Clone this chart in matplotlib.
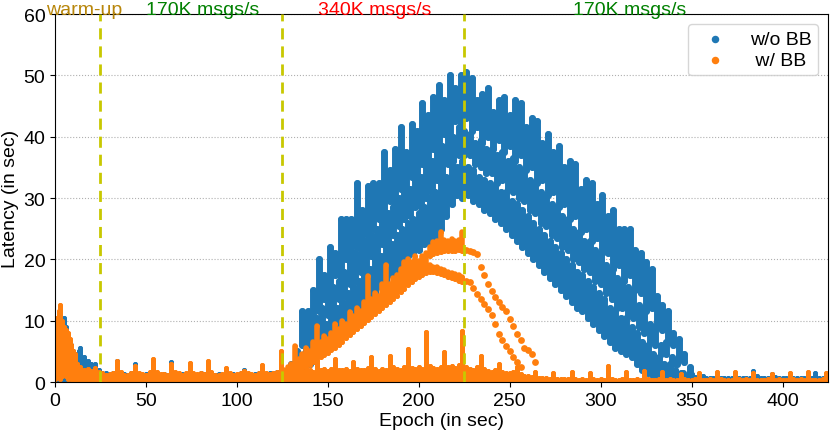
import numpy as np
import matplotlib
matplotlib.use("Agg")
import matplotlib.pyplot as plt

plt.rcParams['font.family'] = ['Liberation Sans', 'DejaVu Sans']

BLUE = '#1f77b4'
ORANGE = '#ff7f0e'

# ---- w/o BB : three bands of latency streaks (lo, hi) every 3 s ----
band_x = np.arange(128, 348, 3)
top_hi = [3, 5, 11.5, 11.5, 15, 20, 17.5, 22, 21, 26.5, 26.5, 26.5, 32.5, 28, 32, 32.5, 32.5,
          37.5, 34.5, 38, 41.5, 37.5, 42, 41, 45.5, 43.5, 46.5, 48.5, 46, 50, 48, 50, 50.5,
          49.5, 46, 47, 48, 44, 46, 46.5, 43.5, 46, 45.5, 41.5, 43, 42.5, 39, 40.5, 37.5, 38.5,
          35, 36, 35.5, 31.5, 33, 32.5, 29, 30.5, 27, 28, 25, 25, 25, 21.5, 21, 19.5, 18.5, 14,
          12.5, 11.5, 8, 7, 4.5, 2.5]
top_lo = [1.3, 3, 6, 7.5, 10, 11.5, 13.5, 14.5, 17.5, 17, 20, 20, 22, 23, 24, 25, 26.5,
          27, 29.5, 28.5, 31.5, 31, 33.5, 33, 35.5, 35.5, 38, 37.5, 40.5, 40, 42.5, 41.5, 43,
          41, 41.5, 39, 40, 38, 39.5, 37.5, 38.5, 36, 37, 34.5, 35, 32.5, 33, 30.5, 31, 28.5,
          29, 26.5, 27, 24.5, 25, 23, 23.5, 21, 21, 18.5, 19, 16.5, 17.5, 15, 14.5, 11.5, 12,
          9, 8.5, 6.5, 6, 4, 3.3, 1.5]
mid_hi = [0.5, 2.5, 4.3, 7.5, 9, 10.5, 12, 14, 15.5, 16.5, 18, 19.5, 21, 22, 23, 24, 25, 26.5,
          27.5, 28.5, 30, 31, 31.5, 33, 33.5, 35, 36, 37.5, 38.5, 40, 40, 41.5, 41, 40.5, 39,
          39.5, 38, 38, 37, 37.5, 36, 36.5, 35, 34.5, 33, 32.5, 31, 30.5, 29, 28.5, 27, 26.5,
          25, 24.5, 23, 23, 21.5, 21, 19, 18.5, 17, 16.5, 15.5, 15, 12.5, 12, 9.5, 9, 6, 6.5,
          4, 3.5, 1.5, 1]
mid_lo = [0.3, 1.5, 3, 5, 6.5, 8, 9, 11, 11.5, 13.5, 14, 16, 16.5, 18, 18.5, 20.5, 20.5, 22.5,
          23, 24, 25.5, 26.5, 27, 28.5, 28.5, 30, 31, 33, 33.5, 35.5, 36, 37, 37, 37, 35.5,
          35, 34, 34, 32.5, 33, 31.5, 31, 30, 29.5, 28, 27.5, 26, 25.5, 24, 23.5, 22, 21.5,
          20, 19.5, 18.5, 18, 16.5, 16, 14.5, 13.5, 12, 12, 11, 10.5, 9, 8, 6.5, 6, 4.5, 4.5,
          3, 3, 1.5, 1]
bot_hi = [0.8, 1.5, 3.3, 4.5, 6, 7, 8.5, 9.5, 11, 12, 13, 14.5, 15.5, 16.5, 17.5, 18.5,
          20, 20.5, 22, 22.5, 24, 25, 26, 26.5, 27.5, 28.5, 30, 31, 32.5, 33.5, 35.5, 35,
          36, 35, 34.5, 33.5, 33, 32.5, 32, 31, 31, 29.5, 29, 28, 27, 26, 25, 24, 23,
          22, 21, 20, 19, 18, 17.5, 16.5, 15.5, 14.5, 13.5, 12, 11.5, 10.5, 10.5, 9, 8, 6.5,
          6, 4.5, 4, 3, 3, 2, 1.5, 0.8]
bot_lo = [0, 0.3, 1, 1.5, 3, 3.5, 4.5, 6, 6.5, 7, 9, 9.5, 10.5, 11.5, 12, 13.5, 14.5, 15.5,
          16, 17.5, 18.5, 19, 20.5, 21, 21.5, 22.5, 22.5, 23.5, 25, 27, 29, 30.5, 30, 30.5,
          29.5, 29, 28, 27.5, 26.5, 26, 25, 24, 23, 22, 21, 20, 19, 18, 17, 16, 15, 14, 13, 12,
          11.5, 10.5, 9.5, 8.5, 7.5, 6.5, 5.5, 5, 4.5, 4, 3, 2, 1.5, 1, 0.5, 0.3, 0.3, 0.3,
          0.3, 0.3]

# w/o BB warm-up and low periods
blue_warm_x = np.arange(0, 14)
blue_warm_hi = [7, 9, 10, 9, 8, 10.5, 9, 6, 5.5, 6, 5, 4, 4.5, 5]
blue_low_x = np.arange(14, 128, 2)
blue_low_hi = [5.5, 4.0, 3.5, 3.0, 3.0, 2.0, 1.5, 1.4, 1.3, 1.5, 3.5, 1.4, 1.3, 1.2, 1.4,
               3.0, 1.3, 1.2, 1.3, 1.4, 2.5, 1.3, 1.2, 1.3, 1.2, 3.2, 1.4, 1.2, 1.3, 1.2,
               3.0, 1.3, 1.2, 1.4, 1.3, 2.5, 1.3, 1.2, 1.3, 1.2, 2.0, 1.2, 1.3, 1.2, 1.4,
               2.0, 1.3, 1.2, 1.3, 1.4, 2.3, 1.3, 1.4, 1.5, 1.6, 3.0, 2.0]
blue_tail_x = np.arange(348, 426, 2)
blue_tail_hi = [1.0, 1.3, 0.8, 0.7, 1.0, 0.6, 0.7, 0.6, 1.0, 0.6, 0.6, 0.7, 0.6, 0.9, 0.6,
                0.6, 0.7, 0.6, 1.8, 1.0, 0.6, 0.6, 0.7, 1.3, 0.8, 0.6, 0.6, 0.7, 1.3, 0.6,
                0.6, 0.7, 0.6, 0.9, 0.6, 1.5, 0.6, 0.7, 1.0]

# ---- w/ BB ----
orange_warm_x = np.arange(0, 13)
orange_warm_lo = [0.5, 1, 2, 0.5, 1, 2, 1, 0.5, 1, 0.5, 0.3, 0.3, 0.3]
orange_warm_hi = [10.5, 9, 11.5, 12.5, 10, 9, 8.5, 8, 7, 6, 5, 4.5, 3]
orange_base_x = np.arange(10, 426, 2)
orange_base_hi = [4.5, 3.0, 2.5, 2.0, 2.2, 1.8, 2.3, 1.6, 1.4, 1.2,
                  1.3, 1.5, 3.5, 1.6, 1.2, 1.2, 1.4, 2.6, 1.5, 1.3,
                  1.2, 1.6, 3.8, 1.7, 1.3, 1.3, 1.2, 3.0, 1.6, 1.4,
                  1.2, 1.5, 3.1, 1.4, 1.3, 1.4, 1.3, 3.5, 1.6, 1.2,
                  1.1, 1.3, 2.3, 1.4, 1.2, 1.3, 1.5, 1.8, 1.4, 1.3,
                  1.2, 1.4, 2.8, 1.5, 1.3, 1.4, 1.6, 5.0, 1.8, 1.5,
                  1.6, 2.0, 3.2, 2.2, 1.8, 2.0, 1.7, 3.5, 1.9, 2.1,
                  1.8, 2.2, 3.8, 2.0, 1.9, 2.1, 1.8, 3.3, 2.2, 2.0,
                  1.9, 2.3, 4.0, 2.1, 1.8, 2.2, 2.0, 4.3, 2.4, 2.1,
                  2.0, 2.5, 5.4, 2.3, 2.2, 2.4, 2.2, 8.1, 2.6, 2.3,
                  2.2, 2.5, 4.9, 2.4, 2.6, 2.3, 2.7, 8.3, 2.5, 2.2,
                  2.0, 2.4, 4.2, 2.1, 1.8, 1.7, 1.9, 3.0, 1.6, 1.5,
                  1.4, 1.6, 2.5, 1.3, 1.0, 0.9, 0.8, 1.6, 0.7, 0.6,
                  0.6, 0.5, 1.4, 0.5, 0.5, 0.5, 0.5, 1.6, 0.5, 0.4,
                  0.5, 0.4, 1.5, 0.5, 0.4, 0.5, 0.4, 2.6, 0.5, 0.4,
                  0.4, 0.5, 1.7, 0.4, 0.4, 0.5, 0.4, 1.8, 0.5, 0.4,
                  0.4, 0.5, 1.7, 0.4, 0.5, 0.4, 0.4, 1.3, 0.5, 0.4,
                  0.4, 0.5, 1.5, 0.4, 0.4, 0.5, 0.4, 1.7, 0.5, 0.4,
                  0.4, 0.4, 1.6, 0.5, 0.4, 0.5, 0.4, 1.5, 0.4, 0.4,
                  0.4, 0.5, 1.3, 0.4, 0.5, 0.4, 0.4, 1.4, 0.5, 0.4,
                  0.5, 0.4, 1.6, 0.4, 0.4, 0.4, 0.5, 1.5]

rise_x = np.arange(126, 226, 2)
rise_lo = [0.3, 0.5, 0.8, 1.2, 1.5, 2.0, 2.3, 2.7, 3.2, 3.6, 4.0, 4.4, 4.8, 5.2, 5.6, 6.1,
           6.6, 7.1, 7.6, 8.1, 8.6, 9.1, 9.6, 10.1, 10.6, 11.1, 11.6, 12.1, 12.5, 13.0, 13.5,
           14.0, 14.6, 15.2, 15.8, 16.3, 16.8, 17.2, 17.5, 17.8, 17.9, 17.9, 17.8, 17.6, 17.4,
           17.2, 17.0, 16.8, 16.5, 16.3]
rise_hi = [2.0, 2.5, 3.0, 5.9, 3.8, 4.5, 5.5, 5.0, 6.5, 9.1, 6.5, 7.5, 7.0, 8.0, 9.5, 8.6,
           10.0, 9.5, 11.4, 10.8, 12.0, 11.5, 13.0, 17.3, 13.5, 14.5, 14.0, 16.0, 19.0, 16.0,
           17.0, 17.5, 18.5, 19.5, 20.0, 19.5, 20.5, 19.8, 20.5, 21.0, 19.0, 18.8, 18.7, 18.5,
           18.3, 18.0, 17.8, 17.6, 17.4, 17.2]

plateau_x = np.arange(206, 226, 2)
plateau_lo = [20.5, 20.8, 21.0, 21.2, 21.3, 21.3, 21.4, 21.4, 21.5, 21.3]
plateau_hi = [22.0, 22.8, 23.0, 24.5, 23.2, 23.0, 23.3, 23.0, 23.2, 24.5]

fall_a_x = np.arange(226, 266, 2)
fall_a_y = [21.5, 21.4, 21.2, 20.9, 18.8, 17.5, 16.0, 14.8, 13.8, 13.0, 12.2, 11.6, 10.3,
            9.1, 7.8, 6.8, 5.6, 5.2, 4.6, 3.3]
fall_b_x = np.arange(226, 258, 2)
fall_b_y = [16.5, 16.3, 15.4, 14.4, 13.5, 12.8, 11.9, 11.0, 9.4, 7.8, 6.9, 5.9, 5.0, 4.1,
            3.2, 2.5]

phase_lines = [25, 125, 225]
phase_names = ['warm-up', '170K msgs/s', '340K msgs/s', '170K msgs/s']
phase_pos = [16, 81, 176, 316]
phase_colors = ['#b8860b', 'green', 'red', 'green']

fig = plt.figure(figsize=(8.3, 4.35), dpi=100)
ax = fig.add_axes([0.0663, 0.1195, 0.9313, 0.846])

FS = 14


def streaks(x, lo, hi, color, label=None, lw=3.6, ms=13):
    ax.vlines(x, lo, hi, colors=color, linewidth=lw, capstyle='round', zorder=2)
    ax.scatter(np.concatenate([x, x]), np.concatenate([lo, hi]), s=ms, color=color,
               label=label, zorder=2, linewidths=0)


# w/o BB
streaks(blue_warm_x, np.zeros(len(blue_warm_x)), blue_warm_hi, BLUE, 'w/o BB')
streaks(blue_low_x, np.zeros(len(blue_low_x)), blue_low_hi, BLUE)
streaks(blue_tail_x, np.zeros(len(blue_tail_x)), blue_tail_hi, BLUE)
streaks(band_x, bot_lo, bot_hi, BLUE, lw=5.0, ms=24)
streaks(band_x + 1, mid_lo, mid_hi, BLUE, lw=5.0, ms=24)
streaks(band_x + 2, top_lo, top_hi, BLUE, lw=5.0, ms=24)

# w/ BB
streaks(orange_warm_x, orange_warm_lo, orange_warm_hi, ORANGE, ' w/ BB')
streaks(orange_base_x, np.zeros(len(orange_base_x)), orange_base_hi, ORANGE)
streaks(rise_x, rise_lo, rise_hi, ORANGE, lw=4.0)
streaks(plateau_x, plateau_lo, plateau_hi, ORANGE, lw=4.0)
ax.scatter(fall_a_x, fall_a_y, s=24, color=ORANGE, linewidths=0, zorder=2)
ax.scatter(fall_b_x, fall_b_y, s=24, color=ORANGE, linewidths=0, zorder=2)

for xv in phase_lines:
    ax.axvline(xv, color='#c8c800', linestyle='--', linewidth=2, dashes=(4, 2.5), zorder=3)

for name, xp, c in zip(phase_names, phase_pos, phase_colors):
    ax.text(xp, 60, name, color=c, ha='center', va='baseline', fontsize=FS)

ax.set_xlim(0, 425)
ax.set_ylim(0, 60)
ax.set_xticks(np.arange(0, 401, 50))
ax.set_yticks(np.arange(0, 61, 10))
ax.tick_params(labelsize=FS)
ax.yaxis.grid(True, linestyle=':', color='#b0b0b0', linewidth=0.8)
ax.set_axisbelow(True)
ax.set_xlabel('Epoch (in sec)', fontsize=FS, labelpad=2)
ax.set_ylabel('Latency (in sec)', fontsize=FS, labelpad=3)

leg = ax.legend(loc='upper right', fontsize=FS, markerscale=1.5, handletextpad=0.8,
                borderpad=0.35, labelspacing=0.15, scatterpoints=1)

fig.savefig('out.png', dpi=100)
